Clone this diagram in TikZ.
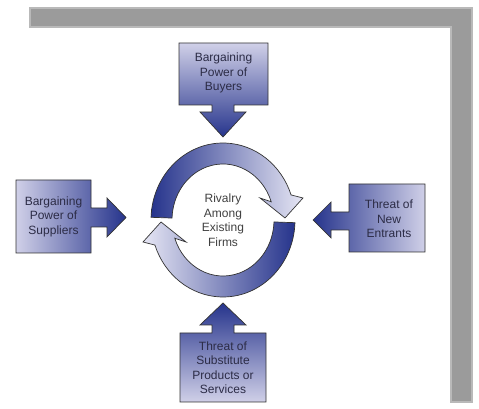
\documentclass[tikz,border=0pt]{standalone}
\usepackage{fontspec}
\setmainfont{Liberation Sans}
\definecolor{darkblue}{RGB}{38,52,140}
\definecolor{ringlight}{RGB}{230,230,244}
\definecolor{boxlight}{RGB}{208,208,232}
\definecolor{shadowgray}{RGB}{155,155,155}
\definecolor{forcetext}{RGB}{44,44,70}

\begin{document}
\begin{tikzpicture}[x=1pt, y=1pt,
    block/.style={draw=black!80, line width=0.7pt, line join=miter},
    force/.style={align=center, text=forcetext, font=\fontsize{12}{14.5}\selectfont}]

\useasboundingbox (0,0) rectangle (479,409);
\draw[shadowgray!70, line width=2pt, fill=shadowgray] (30,401) -- (472,401) -- (472,7) -- (451,7) -- (451,382) -- (30,382) -- cycle;

\coordinate (hub) at (223,189);
\draw[block, left color=darkblue, right color=ringlight]
  ([shift={(hub)}]178:72 and 77) arc[start angle=178, end angle=19, x radius=72, y radius=77]
  -- (303,211) -- (285,191) -- (260,211)
  -- ([shift={(hub)}]19:51 and 56) arc[start angle=19, end angle=178, x radius=51, y radius=56] -- cycle;
\draw[block, left color=ringlight, right color=darkblue]
  ([shift={(hub)}]-2:72 and 77) arc[start angle=-2, end angle=-161, x radius=72, y radius=77]
  -- (143,167) -- (161,187) -- (186,167)
  -- ([shift={(hub)}]-161:51 and 56) arc[start angle=-161, end angle=-2, x radius=51, y radius=56] -- cycle;
\node[force, text=black!75] (rivalry) at (hub) {Rivalry\\Among\\Existing\\Firms};

\draw[block, top color=boxlight, bottom color=darkblue]
  (179,366) -- (268,366) -- (268,304) -- (234,304) -- (234,297) -- (246,297) -- (223,272)
  -- (200,297) -- (212,297) -- (212,304) -- (179,304) -- cycle;
\node[force] (buyers) at (223.5,336) {Bargaining\\Power of\\Buyers};

\draw[block, left color=boxlight, right color=darkblue]
  (16,229) -- (91,229) -- (91,201) -- (107,201) -- (107,211) -- (126,191.5)
  -- (107,172) -- (107,182) -- (91,182) -- (91,156) -- (16,156) -- cycle;
\node[force] (suppliers) at (53.5,192.5) {Bargaining\\Power of\\Suppliers};

\draw[block, left color=darkblue, right color=boxlight]
  (425,225) -- (349,225) -- (349,197) -- (331,197) -- (331,207) -- (313,189)
  -- (331,171) -- (331,179) -- (349,179) -- (349,157) -- (425,157) -- cycle;
\node[force] (entrants) at (389,190) {Threat of\\New\\Entrants};

\draw[block, top color=darkblue, bottom color=boxlight]
  (180,7) -- (266,7) -- (266,76) -- (234,76) -- (234,84) -- (246,84) -- (223,106)
  -- (200,84) -- (212,84) -- (212,76) -- (180,76) -- cycle;
\node[force] (substitutes) at (223,41.5) {Threat of\\Substitute\\Products or\\Services};
\end{tikzpicture}
\end{document}
